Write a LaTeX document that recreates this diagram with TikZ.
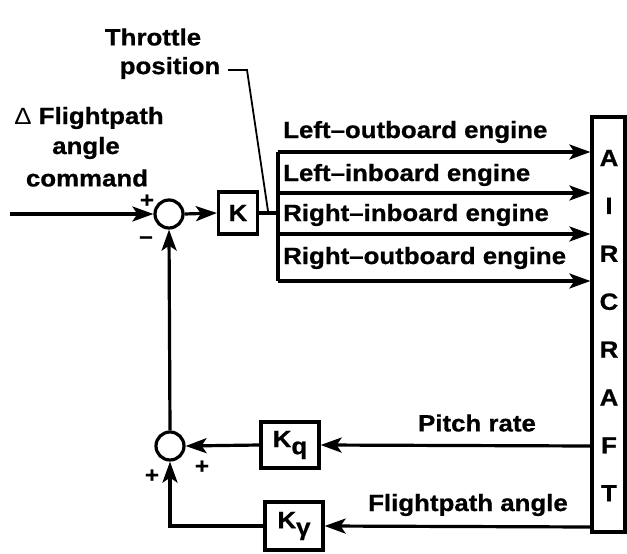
\documentclass[tikz,border=0pt]{standalone}
\usepackage{fontspec}
\setmainfont{Liberation Sans}[FakeStretch=1.1, BoldFeatures={FakeBold=0.8}]
\usetikzlibrary{arrows.meta,calc}
\begin{document}
\begin{tikzpicture}[x=1pt,y=-1pt,
  every node/.style={font=\fontsize{23.5}{26}\selectfont\bfseries, inner sep=0pt},
  wire/.style={line width=3.2pt},
  arr/.style={wire, -{Stealth[length=21pt,width=15pt,inset=5pt]}},
  gainbox/.style={draw, line width=3.2pt},
  sumnode/.style={draw, circle, line width=3.2pt, minimum size=28pt},
  sgn/.style={font=\fontsize{22}{22}\selectfont\bfseries}]
\useasboundingbox (0,0) rectangle (627,554);

% texts
\node (thr) at (153,37) {Throttle};
\node (pos) at (170,68) {position};
\node (fpa1) at (89,118) {{\mdseries Δ} Flightpath};
\node (fpa2) at (86,148) {angle};
\node (fpa3) at (87,178) {command};

% aircraft
\node[draw, line width=3.2pt, minimum width=33pt, minimum height=415pt] (ac) at (608.5,324.5) {};
\foreach \l [count=\i from 0] in {A,I,R,C,R,A,F,T}
  \node (acl\i) at (609,{158+47.9*\i}) {\l};

% summing junctions and gains
\node[sumnode] (s1) at (169,214) {};
\node[gainbox, minimum width=39pt, minimum height=42pt] (K) at (238,213) {K};
\node[sumnode] (s2) at (170,446) {};
\node[gainbox, minimum width=58pt, minimum height=46pt] (Kq) at (290,445) {K\raisebox{-7pt}{q}};
\node[gainbox, minimum width=58pt, minimum height=48pt] (Kg) at (294,526) {K\raisebox{-7pt}{γ}};

% input
\coordinate (inp) at (10,214);
\draw[arr] (inp) -- (s1.west);
\node[sgn] (p1) at (147,201) {+};
\node[sgn] (m1) at (146,240) {--};
\draw[arr] (s1.east) -- (K.west);

% bus
\coordinate (busT) at (278,152);
\coordinate (busB) at (278,281);
\coordinate (busK) at (278,213);
\draw[wire] (K.east) -- (busK);
\draw[wire] (busT) -- (busB);
\foreach \y/\n in {152/1,193/2,234/3,281/4}{
  \coordinate (e\n) at (278,\y);
  \draw[arr] (e\n) -- (e\n -| ac.west);
}
\node[anchor=west] (l1) at (283,132) {Left--outboard engine};
\node[anchor=west] (l2) at (283,175) {Left--inboard engine};
\node[anchor=west] (l3) at (283,215) {Right--inboard engine};
\node[anchor=west] (l4) at (283,258) {Right--outboard engine};

% throttle leader
\coordinate (t1) at (228,70);
\coordinate (t2) at (247,70);
\coordinate (t3) at (268,211);
\draw[line width=1.8pt] (t1) -- (t2) -- (t3);

% feedback
\coordinate (pr) at (ac.west |- 0,446);
\coordinate (fp) at (ac.west |- 0,527);
\draw[arr] (pr) -- (Kq.east);
\draw[arr] (Kq.west) -- (s2.east);
\draw[arr] (fp) -- (Kg.east);
\draw[arr] (Kg.west) -| (s2.south);
\draw[arr] (s2.north) -- (s1.south);
\node[sgn] (p2) at (202,467) {+};
\node[sgn] (p3) at (152,476) {+};
\node (prl) at (477,423) {Pitch rate};
\node (fpl) at (468,505) {Flightpath angle};
\end{tikzpicture}
\end{document}
